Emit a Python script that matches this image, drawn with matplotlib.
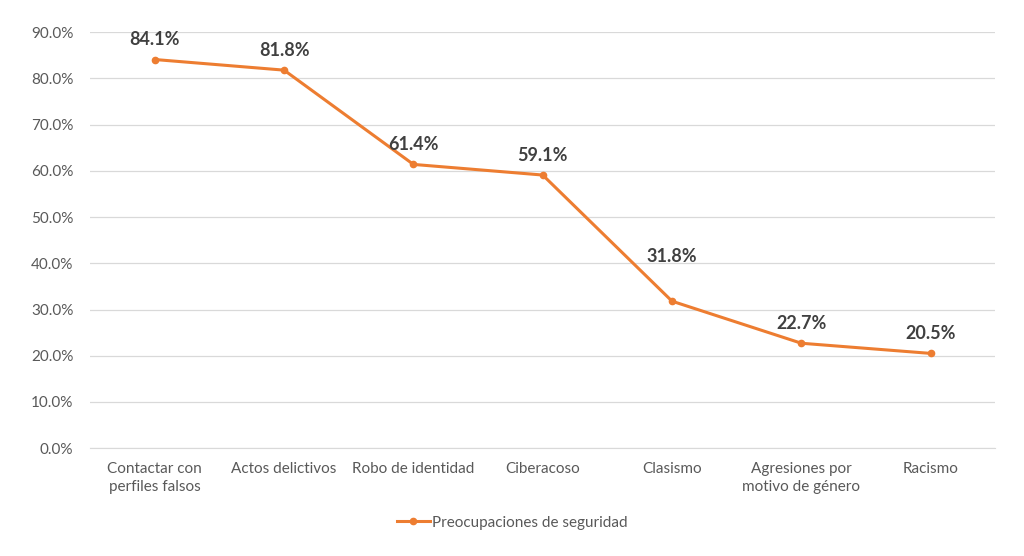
import matplotlib.pyplot as plt
from matplotlib.ticker import FuncFormatter

categories = ["Contactar con\nperfiles falsos", "Actos delictivos", "Robo de identidad",
              "Ciberacoso", "Clasismo", "Agresiones por\nmotivo de género", "Racismo"]
values = [84.1, 81.8, 61.4, 59.1, 31.8, 22.7, 20.5]
yticks = [0, 10, 20, 30, 40, 50, 60, 70, 80, 90]
series_name = "Preocupaciones de seguridad"

plt.rcParams["font.family"] = ["Lato", "DejaVu Sans"]
orange = "#ED7D31"

fig = plt.figure(figsize=(10.24, 5.56), dpi=100)
ax = fig.add_axes([0.088, 0.194, 0.884, 0.748])

x = list(range(len(categories)))
ax.plot(x, values, color=orange, linewidth=2.2, marker="o", markersize=4.5,
        label=series_name)
# label offsets in points (the Clasismo label sits higher in the original)
label_dy = [8, 8, 8, 8, 26, 8, 8]
for xi, v, dy in zip(x, values, label_dy):
    ax.annotate(f"{v:.1f}%", (xi, v), xytext=(0, dy), textcoords="offset points",
                ha="center", va="bottom", fontsize=13, fontweight="bold", color="#404040")

ax.set_xlim(-0.5, len(categories) - 0.5)
ax.set_ylim(0, 90)
ax.set_yticks(yticks)
ax.yaxis.set_major_formatter(FuncFormatter(lambda v, p: f"{v:.1f}%"))
ax.set_xticks(x)
ax.set_xticklabels(categories, fontsize=11, color="#595959", linespacing=1.35)
ax.tick_params(axis="y", labelsize=11, labelcolor="#595959", length=0, pad=12)
ax.tick_params(axis="x", length=0, pad=10)
ax.grid(axis="y", color="#D9D9D9", linewidth=0.9)
ax.set_axisbelow(True)
for s in ["top", "right", "left"]:
    ax.spines[s].set_visible(False)
ax.spines["bottom"].set_color("#D9D9D9")

leg = fig.legend(loc="center", bbox_to_anchor=(0.5, 0.06), frameon=False,
                 fontsize=11, handlelength=2.2, handletextpad=0.1)
for t in leg.get_texts():
    t.set_color("#595959")

fig.savefig("out.png", dpi=100)
